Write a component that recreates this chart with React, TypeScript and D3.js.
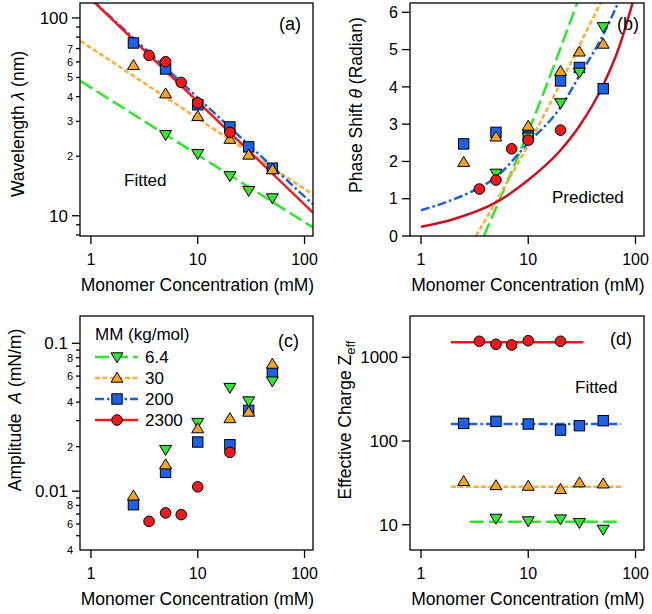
import * as d3 from "d3";

const FONT = "'Liberation Sans', Arial, Helvetica, sans-serif";

// molar masses (kg/mol), legend order
const mmLabels = ["6.4", "30", "200", "2300"];

// monomer concentrations (mM) measured for each molar mass
const concGreen = [5, 10, 20, 30, 50];
const concOrange = [2.5, 5, 10, 20, 30, 50];
const concBlue = [2.5, 5, 10, 20, 30, 50];
const concRed = [3.5, 5, 7, 10, 20];

// (a) wavelength (nm)
const waveGreen = [25.7, 20.6, 15.9, 13.4, 12.3];
const waveOrange = [57.6, 41.4, 31.8, 24.4, 20.3, 17.1];
const waveBlue = [74.7, 55.2, 36.4, 28.1, 22.3, 17.4];
const waveRed = [64.7, 60.1, 47.2, 37.2, 26.4];

// (b) phase shift (rad)
const phaseGreen = [1.68, 2.65, 3.57, 4.39, 5.61];
const phaseOrange = [1.98, 2.66, 2.95, 4.42, 4.94, 5.15];
const phaseBlue = [2.47, 2.78, 2.68, 4.16, 4.52, 3.95];
const phaseRed = [1.26, 1.5, 2.34, 2.57, 2.84];

// (c) amplitude (mN/m)
const ampGreen = [0.0191, 0.0291, 0.0502, 0.0407, 0.0555];
const ampOrange = [0.0093, 0.0151, 0.0265, 0.031, 0.0343, 0.0724];
const ampBlue = [0.0081, 0.0134, 0.0215, 0.0206, 0.0352, 0.0636];
const ampRed = [0.00625, 0.00713, 0.00694, 0.0107, 0.0183];

// (d) effective charge
const zGreen = [11.9, 11.1, 11.7, 10.6, 8.8];
const zOrange = [33, 29.5, 29, 26.5, 31.8, 30.9];
const zBlue = [162.5, 171.8, 159.6, 135.3, 152.5, 174.9];
const zRed = [1552, 1430, 1403, 1578, 1552];

// (a) fitted power laws, [conc, wavelength] at the two ends
const waveFitGreen = [[0.8, 47.9], [120, 8.72]];
const waveFitOrange = [[0.8, 76.5], [120, 12.78]];
const waveFitBlue = [[0.8, 139.8], [120, 11.41]];
const waveFitRed = [[0.8, 140], [120, 10.37]];

// (b) predicted curves
const phasePredGreen = [[3.85, 0], [12.2, 3.42], [29, 6.3]];
const phasePredOrange = [[3.25, 0], [10, 2.45], [48, 6.3]];
const phasePredBlue = [[1, 0.69], [2, 0.98], [3, 1.2], [5, 1.58], [10, 2.5], [20, 3.45], [30, 4.3], [50, 5.4], [70, 6.3]];
const phasePredRed = [[1, 0.25], [2, 0.45], [5, 0.9], [10, 1.5], [20, 2.3], [30, 2.95], [50, 4.05], [70, 5.05], [95, 6.3]];

// (d) fitted constant Zeff over the fitted range
const zFitGreen = [[2.85, 10.9], [73.5, 10.9]];
const zFitOrange = [[1.9, 28.5], [73.5, 28.5]];
const zFitBlue = [[1.9, 159.6], [73.5, 159.6]];
const zFitRed = [[1.9, 1510], [32.7, 1510]];

// axes
const concDomain = [0.79, 120];
const concTicks = [1, 10, 100];
const waveDomain = [7.9, 119];
const waveTicks = [10, 100];
const waveMinorTicks = [8, 9, 20, 30, 40, 50, 60, 70, 80, 90];
const waveMinorLabels = [20, 30, 40, 50, 60, 70];
const phaseDomain = [0, 6.25];
const phaseTicks = [0, 1, 2, 3, 4, 5, 6];
const ampDomain = [0.004, 0.153];
const ampTicks = [0.01, 0.1];
const ampMinorTicks = [0.005, 0.006, 0.007, 0.008, 0.009, 0.02, 0.03, 0.04, 0.05, 0.06, 0.07, 0.08, 0.09];
const ampMinorLabels = [0.004, 0.006, 0.008, 0.02, 0.04, 0.06, 0.08];
const zDomain = [5, 3110];
const zTicks = [10, 100, 1000];

// styles, indexed like mmLabels
const FILLS = ["#35e435", "#f5a422", "#1d61e6", "#ee1a1a"];
const STROKES = ["#2fe62f", "#ffac36", "#1b5fe4", "#ee1c1c"];
const DASHES = ["14 5", "5 2.5", "9 3 2.5 3", "none"];
const MARKERS = ["down", "up", "square", "circle"];
const DRAW_ORDER = [2, 0, 1, 3];

function Marker({ kind, x, y, fill }) {
  const common = { fill, stroke: "#000", strokeWidth: 1 };
  if (kind === "circle") return <circle cx={x} cy={y} r={5.3} {...common} />;
  if (kind === "square") return <rect x={x - 5.2} y={y - 5.2} width={10.4} height={10.4} {...common} />;
  if (kind === "up")
    return <path d={`M${x},${y - 5.8}L${x + 6},${y + 4.2}L${x - 6},${y + 4.2}Z`} {...common} />;
  return <path d={`M${x},${y + 5.8}L${x + 6},${y - 4.2}L${x - 6},${y - 4.2}Z`} {...common} />;
}

function minorDigit(v) {
  return String(Math.round(v / Math.pow(10, Math.floor(Math.log10(v) + 1e-9))));
}

function Panel(props) {
  const { id, box, yScale, yMajor, yMinor = [], yMinorLabels = [], majorFont = 16,
    xs, ys, fits, curved = false, fitStrokes = STROKES, children } = props;
  const [x0, y0, x1, y1] = box;
  const x = d3.scaleLog().domain(concDomain).range([x0, x1]);
  const y = yScale.copy().range([y1, y0]);
  const line = d3.line().x((d) => x(d[0])).y((d) => y(d[1]))
    .curve(curved ? d3.curveMonotoneX : d3.curveLinear);

  return (
    <g>
      <defs>
        <clipPath id={id}>
          <rect x={x0} y={y0} width={x1 - x0} height={y1 - y0} />
        </clipPath>
      </defs>
      <g clipPath={`url(#${id})`}>
        {fits.map((pts, i) => (
          <path key={i} d={line(pts)} fill="none" stroke={fitStrokes[i]} strokeWidth={2.5}
            strokeDasharray={DASHES[i]} />
        ))}
      </g>
      {DRAW_ORDER.map((i) =>
        xs[i].map((c, j) => (
          <Marker key={i + "-" + j} kind={MARKERS[i]} x={x(c)} y={y(ys[i][j])} fill={FILLS[i]} />
        ))
      )}
      <rect x={x0} y={y0} width={x1 - x0} height={y1 - y0} fill="none" stroke="#000" strokeWidth={1.3} />
      {concTicks.map((t) => (
        <g key={t}>
          <line x1={x(t)} x2={x(t)} y1={y1} y2={y1 + 8} stroke="#000" strokeWidth={1.3} />
          <text x={x(t)} y={y1 + 29} textAnchor="middle" fontSize={16}>{t}</text>
        </g>
      ))}
      {yMajor.map((t) => (
        <g key={t}>
          <line x1={x0 - 8} x2={x0} y1={y(t)} y2={y(t)} stroke="#000" strokeWidth={1.3} />
          <text x={x0 - 12} y={y(t) + majorFont * 0.36} textAnchor="end" fontSize={majorFont}>{String(t)}</text>
        </g>
      ))}
      {yMinor.map((t) => (
        <line key={t} x1={x0 - 4} x2={x0} y1={y(t)} y2={y(t)} stroke="#000" strokeWidth={1.3} />
      ))}
      {yMinorLabels.map((t) => (
        <text key={t} x={x0 - 7} y={y(t) + 4} textAnchor="end" fontSize={11}>{minorDigit(t)}</text>
      ))}
      <text x={(x0 + x1) / 2 + 1} y={y1 + 55} textAnchor="middle" fontSize={17.5}>
        Monomer Concentration (mM)
      </text>
      {children}
    </g>
  );
}

function Legend({ x, y }) {
  return (
    <g>
      <text x={x} y={y} fontSize={17}>MM (kg/mol)</text>
      {mmLabels.map((lab, i) => {
        const cy = y + 17 + i * 21;
        return (
          <g key={lab}>
            <line x1={x} x2={x + 43} y1={cy} y2={cy} stroke={STROKES[i]} strokeWidth={2.5}
              strokeDasharray={DASHES[i]} />
            <Marker kind={MARKERS[i]} x={x + 22} y={cy} fill={FILLS[i]} />
            <text x={x + 50} y={cy + 6} fontSize={17}>{lab}</text>
          </g>
        );
      })}
    </g>
  );
}

export default function App() {
  const ySeries = (g, o, b, r) => [g, o, b, r];
  const xsAll = [concGreen, concOrange, concBlue, concRed];
  return (
    <svg width={652} height={614} style={{ position: "absolute", left: 0, top: 0, background: "#fff" }}
      fontFamily={FONT}>
      <Panel id="clipA" box={[80, 3, 313, 236]} yScale={d3.scaleLog().domain(waveDomain)}
        yMajor={waveTicks} yMinor={waveMinorTicks} yMinorLabels={waveMinorLabels} majorFont={17}
        xs={xsAll} ys={ySeries(waveGreen, waveOrange, waveBlue, waveRed)}
        fits={[waveFitGreen, waveFitOrange, waveFitBlue, waveFitRed]}>
        <text x={279} y={30} fontSize={18}>(a)</text>
        <text x={124} y={186} fontSize={17}>Fitted</text>
        <text transform="translate(24,124) rotate(-90)" textAnchor="middle" fontSize={17.5}>
          Wavelength <tspan fontStyle="italic">λ</tspan> (nm)
        </text>
      </Panel>

      <Panel id="clipB" box={[410, 3, 644, 236]} yScale={d3.scaleLinear().domain(phaseDomain)}
        yMajor={phaseTicks} majorFont={16} curved
        fitStrokes={[STROKES[0], STROKES[1], STROKES[2], "#cc1122"]}
        xs={xsAll} ys={ySeries(phaseGreen, phaseOrange, phaseBlue, phaseRed)}
        fits={[phasePredGreen, phasePredOrange, phasePredBlue, phasePredRed]}>
        <text x={617} y={30} fontSize={18}>(b)</text>
        <text x={552} y={203} fontSize={17}>Predicted</text>
        <text transform="translate(362,105) rotate(-90)" textAnchor="middle" fontSize={17.5}>
          Phase Shift <tspan fontStyle="italic">θ</tspan> (Radian)
        </text>
      </Panel>

      <Panel id="clipC" box={[80, 316, 313, 550]} yScale={d3.scaleLog().domain(ampDomain)}
        yMajor={ampTicks} yMinor={ampMinorTicks} yMinorLabels={ampMinorLabels} majorFont={17}
        xs={xsAll} ys={ySeries(ampGreen, ampOrange, ampBlue, ampRed)}
        fits={[]}>
        <text x={278} y={347} fontSize={18}>(c)</text>
        <Legend x={95} y={340} />
        <text transform="translate(21,410) rotate(-90)" textAnchor="middle" fontSize={17.5}>
          Amplitude{"\u00a0\u00a0"}<tspan fontStyle="italic">A</tspan> (mN/m)
        </text>
      </Panel>

      <Panel id="clipD" box={[410, 316, 644, 550]} yScale={d3.scaleLog().domain(zDomain)}
        yMajor={zTicks} majorFont={17}
        xs={xsAll} ys={ySeries(zGreen, zOrange, zBlue, zRed)}
        fits={[zFitGreen, zFitOrange, zFitBlue, zFitRed]}>
        <text x={610} y={345} fontSize={18}>(d)</text>
        <text x={575} y={393} fontSize={17}>Fitted</text>
        <text transform="translate(351,420) rotate(-90)" textAnchor="middle" fontSize={17.5}>
          Effective Charge Z<tspan dy={4} fontSize={13}>eff</tspan>
        </text>
      </Panel>
    </svg>
  );
}
